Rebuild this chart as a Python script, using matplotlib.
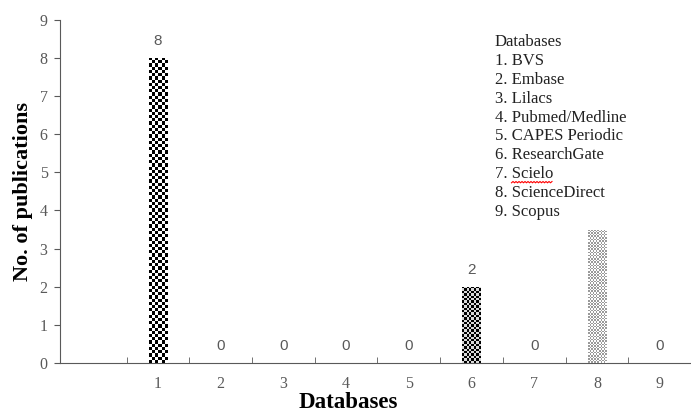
import numpy as np
import matplotlib.pyplot as plt
from matplotlib.lines import Line2D

categories = ["1", "2", "3", "4", "5", "6", "7", "8", "9"]
publications = [8, 0, 0, 0, 0, 2, 0, 3.5, 0]
bar_labels = ["8", "0", "0", "0", "0", "2", "0", "", "0"]
legend_lines = ["Databases", "1. BVS", "2. Embase", "3. Lilacs", "4. Pubmed/Medline",
                "5. CAPES Periodic", "6. ResearchGate", "7. Scielo", "8. ScienceDirect",
                "9. Scopus"]

serif = "Liberation Serif"
grey = "#595959"

fig = plt.figure(figsize=(6.91, 4.13), dpi=100)
ax = fig.add_axes([0.087, 0.121, 0.913, 0.831])

x = np.arange(1, len(categories) + 1)
bars = ax.bar(x, publications, width=0.3, color="white", edgecolor="none", zorder=2)

def checker(nx, ny, dark, light):
    a = (np.add.outer(np.arange(ny), np.arange(nx)) % 2)
    img = np.zeros((ny, nx, 3))
    img[a == 0] = plt.matplotlib.colors.to_rgb(dark)
    img[a == 1] = plt.matplotlib.colors.to_rgb(light)
    return img

# pattern fills per bar index: (cell size px, dark colour, light colour)
patterns = {0: (3.2, "black", "white"), 5: (2.4, "black", "#d8d8d8"), 7: (1.6, "#9a9a9a", "white")}
xlim = (-0.56, 9.5)
ax.set_xlim(*xlim)
ax.set_ylim(0, 9)
fig.canvas.draw()
for i, (cell, dark, light) in patterns.items():
    b = bars[i]
    if b.get_height() <= 0:
        continue
    bb = b.get_window_extent()
    nx = max(1, int(round(bb.width / cell)))
    ny = max(1, int(round(bb.height / cell)))
    im = ax.imshow(checker(nx, ny, dark, light),
                   extent=(b.get_x(), b.get_x() + b.get_width(), 0, b.get_height()),
                   aspect="auto", interpolation="nearest", zorder=3)
    im.set_clip_path(b)

for xi, v, lab in zip(x, publications, bar_labels):
    if lab:
        ax.annotate(lab, (xi, v), xytext=(0, 12), textcoords="offset points",
                    ha="center", va="center", fontsize=11, color=grey, family="Liberation Sans")

ax.set_aspect("auto")
ax.set_xlim(*xlim)
ax.set_ylim(0, 9)
ax.set_xticks(x)
ax.set_xticklabels(categories, family=serif, fontsize=11.5, color=grey)
ax.set_xticks(np.arange(0.5, 9.5, 1), minor=True)
ax.tick_params(axis="x", which="major", length=0, pad=9)
ax.tick_params(axis="x", which="minor", direction="in", length=4, color=grey)
ax.set_yticks(range(0, 10))
ax.set_yticklabels([str(i) for i in range(10)], family=serif, fontsize=11.5, color=grey)
ax.tick_params(axis="y", direction="out", length=4, color=grey, pad=5)

for s in ["top", "right"]:
    ax.spines[s].set_visible(False)
for s in ["left", "bottom"]:
    ax.spines[s].set_color(grey)

ax.set_xlabel("Databases", family=serif, fontsize=16.5, fontweight="bold", va="center")
ax.xaxis.set_label_coords(0.456, -0.116)
ax.set_ylabel("No. of publications", family=serif, fontsize=16, fontweight="bold")
ax.yaxis.set_label_coords(-0.043, 0.5)

texts = []
for k, line in enumerate(legend_lines):
    texts.append(fig.text(0.716, 1 - (42 + 18.9 * k) / 413, line, family=serif, fontsize=12,
                          va="center", ha="left", color="#222222"))

# spell-check squiggle under "Scielo"
r = fig.canvas.get_renderer()
t = texts[7]
full = t.get_window_extent(r)
pre = fig.text(0, 0, "7. ", family=serif, fontsize=12)
pw = pre.get_window_extent(r).width
pre.remove()
x0, x1 = full.x0 + pw, full.x1
yb = full.y0 - 0.5
xs = np.arange(x0, x1 + 0.1, 1.5)
ys = yb + np.where(np.arange(len(xs)) % 2 == 0, 0.0, 1.3)
fig.add_artist(Line2D(xs / fig.bbox.width, ys / fig.bbox.height, color="red", lw=0.8,
                      transform=fig.transFigure))

fig.savefig("out.png", dpi=100)
